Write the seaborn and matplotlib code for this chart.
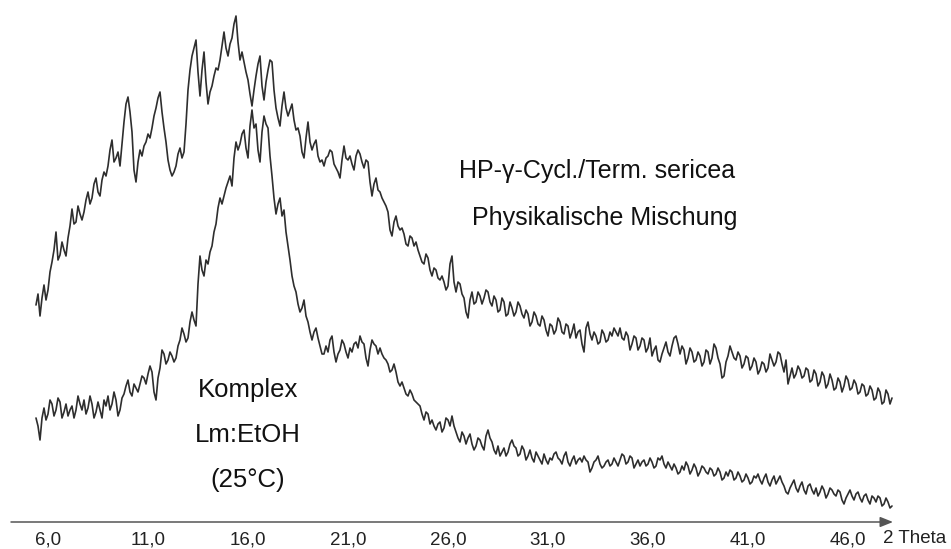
import numpy as np
import pandas as pd
import matplotlib
matplotlib.use("Agg")
import matplotlib.pyplot as plt
from matplotlib.patches import ArrowStyle
import seaborn as sns

# 2-theta scan grid (degrees)
SCAN_START = 5.4
SCAN_STEP = 0.1

# Intensities (arbitrary units) of the physical mixture
mischung = [
    217, 228, 206, 224, 237, 222, 232, 250, 260, 272, 290, 262, 267, 280, 272, 266,
    284, 296, 313, 298, 300, 316, 308, 302, 310, 322, 330, 318, 324, 338, 344, 330,
    326, 342, 350, 346, 356, 372, 382, 360, 364, 370, 356, 378, 400, 418, 425, 410,
    390, 352, 340, 360, 372, 366, 376, 380, 388, 384, 394, 406, 414, 424, 430, 410,
    394, 380, 362, 352, 346, 350, 356, 368, 374, 364, 370, 398, 432, 452, 466, 474,
    482, 450, 426, 452, 470, 440, 418, 430, 436, 446, 454, 452, 462, 476, 490, 474,
    466, 478, 484, 498, 506, 480, 462, 470, 460, 450, 442, 428, 416, 432, 446, 458,
    466, 436, 422, 440, 452, 462, 460, 432, 414, 404, 396, 416, 430, 414, 406, 412,
    418, 402, 392, 394, 386, 370, 364, 384, 400, 380, 372, 378, 382, 366, 360, 362,
    356, 364, 366, 372, 370, 358, 354, 350, 344, 362, 376, 364, 362, 366, 358, 352,
    366, 372, 368, 360, 354, 362, 360, 340, 326, 338, 344, 332, 330, 324, 320, 316,
    310, 292, 286, 300, 306, 296, 292, 294, 288, 278, 276, 286, 284, 276, 280, 272,
    266, 260, 258, 268, 264, 252, 246, 254, 252, 244, 242, 246, 240, 232, 236, 258,
    266, 240, 230, 240, 238, 228, 224, 210, 204, 222, 230, 218, 220, 230, 226, 218,
    224, 232, 230, 220, 216, 226, 222, 210, 212, 224, 220, 206, 208, 220, 214, 206,
    210, 220, 216, 208, 204, 212, 208, 196, 200, 210, 206, 198, 196, 206, 202, 192,
    186, 198, 196, 188, 192, 204, 200, 190, 188, 198, 196, 184, 190, 198, 184, 190,
    192, 178, 170, 194, 200, 188, 182, 190, 186, 178, 180, 192, 188, 180, 182, 190,
    186, 194, 190, 186, 194, 184, 182, 190, 186, 172, 178, 186, 184, 172, 176, 184,
    182, 170, 174, 184, 166, 172, 176, 162, 160, 168, 174, 180, 170, 166, 176, 184,
    186, 178, 168, 176, 172, 158, 164, 174, 170, 160, 162, 170, 166, 156, 160, 172,
    170, 158, 164, 178, 174, 164, 158, 144, 146, 160, 166, 176, 170, 164, 162, 170,
    166, 154, 158, 166, 164, 152, 156, 164, 160, 148, 152, 160, 158, 150, 154, 168,
    162, 156, 160, 170, 168, 158, 150, 162, 138, 146, 154, 144, 148, 156, 152, 144,
    146, 154, 152, 140, 142, 152, 148, 136, 140, 150, 146, 134, 138, 148, 142, 132,
    134, 144, 140, 130, 136, 146, 142, 132, 134, 142, 138, 128, 130, 138, 136, 126,
    128, 136, 132, 122, 124, 134, 130, 118, 120, 132, 128, 118, 124,
]

# Intensities (arbitrary units) of the complex
komplex = [
    104, 96, 82, 104, 114, 102, 108, 122, 118, 106, 112, 124, 120, 104, 110, 118,
    106, 112, 116, 104, 112, 126, 118, 112, 122, 108, 114, 126, 118, 104, 110, 120,
    112, 104, 122, 116, 126, 112, 118, 130, 122, 106, 112, 124, 128, 136, 142, 130,
    126, 138, 134, 130, 138, 146, 144, 138, 148, 156, 150, 130, 122, 144, 154, 172,
    168, 158, 162, 170, 166, 160, 164, 176, 182, 194, 188, 180, 184, 200, 210, 202,
    196, 238, 266, 252, 246, 262, 258, 270, 276, 290, 298, 314, 324, 318, 326, 334,
    340, 346, 336, 364, 380, 372, 378, 388, 392, 374, 364, 396, 412, 394, 398, 372,
    360, 390, 406, 398, 394, 366, 346, 324, 308, 318, 324, 306, 312, 290, 276, 262,
    246, 236, 230, 218, 210, 214, 222, 206, 200, 190, 182, 190, 194, 184, 176, 168,
    168, 176, 170, 182, 186, 170, 160, 168, 172, 182, 178, 170, 164, 174, 170, 178,
    180, 174, 186, 180, 178, 164, 156, 172, 182, 178, 176, 168, 174, 168, 164, 162,
    158, 150, 152, 158, 150, 140, 136, 140, 134, 128, 126, 132, 128, 122, 120, 118,
    116, 108, 102, 110, 108, 98, 102, 96, 92, 98, 100, 90, 94, 104, 102, 96,
    106, 96, 90, 84, 80, 90, 86, 78, 84, 88, 78, 72, 76, 84, 82, 76,
    72, 86, 92, 84, 80, 72, 68, 76, 66, 70, 74, 66, 70, 78, 82, 76,
    74, 66, 68, 76, 72, 62, 66, 72, 64, 60, 70, 66, 62, 58, 68, 62,
    58, 64, 62, 68, 70, 64, 62, 58, 66, 70, 60, 56, 62, 66, 58, 62,
    64, 60, 66, 62, 60, 50, 54, 60, 62, 66, 58, 54, 56, 60, 62, 56,
    58, 64, 60, 56, 62, 68, 66, 58, 60, 66, 64, 54, 58, 62, 56, 60,
    62, 56, 58, 64, 60, 54, 56, 64, 62, 66, 58, 54, 60, 56, 52, 58,
    54, 48, 50, 56, 52, 60, 56, 48, 52, 58, 54, 46, 50, 56, 54, 50,
    48, 54, 52, 46, 48, 54, 50, 42, 44, 50, 46, 52, 50, 42, 44, 50,
    46, 40, 42, 48, 44, 38, 40, 46, 44, 48, 42, 38, 44, 48, 40, 36,
    42, 46, 38, 42, 46, 40, 36, 30, 28, 34, 38, 42, 34, 30, 36, 40,
    32, 28, 36, 38, 32, 28, 34, 26, 30, 36, 32, 24, 28, 34, 32, 28,
    26, 32, 30, 22, 18, 24, 28, 32, 26, 22, 28, 30, 24, 20, 26, 28,
    22, 18, 26, 24, 20, 26, 24, 16, 18, 24, 20, 14, 16,
]

tick_values = [6, 11, 16, 21, 26, 31, 36, 41, 46]
tick_labels = ["6,0", "11,0", "16,0", "21,0", "26,0", "31,0", "36,0", "41,0", "46,0"]
axis_label = "2 Theta"

label_mischung = ["HP-\u03b3-Cycl./Term. sericea", "Physikalische Mischung"]
label_komplex = ["Komplex", "Lm:EtOH", "(25\u00b0C)"]


def scan_frame(values, name):
    theta = SCAN_START + SCAN_STEP * np.arange(len(values))
    return pd.DataFrame({"2theta": theta, "intensity": values, "probe": name})


data = pd.concat([scan_frame(mischung, "Mischung"), scan_frame(komplex, "Komplex")],
                 ignore_index=True)

sns.set_style("white")
plt.rcParams["font.family"] = ["Liberation Sans", "DejaVu Sans"]

fig = plt.figure(figsize=(9.51, 5.49), dpi=100)
ax = fig.add_axes([0, 0, 1, 1])

trace_color = "#2e2e2e"
sns.lineplot(data=data, x="2theta", y="intensity", hue="probe",
             palette={"Mischung": trace_color, "Komplex": trace_color},
             estimator=None, sort=False, lw=1.2, legend=False, ax=ax)

ax.set_xlim(3.6, 51.15)
ax.set_ylim(-27, 522)

# horizontal 2-theta axis drawn as an arrow along intensity zero
for side in ["top", "right", "left", "bottom"]:
    ax.spines[side].set_visible(False)
ax.spines["bottom"].set_position(("data", 0))
ax.annotate("", xy=(48.25, 0), xytext=(4.15, 0),
            arrowprops=dict(arrowstyle=ArrowStyle("-|>", head_length=0.55, head_width=0.22),
                            mutation_scale=14, color="#555555", lw=1.1,
                            shrinkA=0, shrinkB=0))

ax.set_xticks(tick_values)
ax.set_xticklabels(tick_labels)
ax.set_yticks([])
ax.tick_params(axis="x", length=0, pad=6.5, labelsize=13.5, colors="#222222")
ax.set_xlabel("")
ax.set_ylabel("")
ax.text(47.75, -21, axis_label, ha="left", va="baseline", fontsize=13.5, color="#222222")

# series labels
ax.text(33.45, 344, label_mischung[0], ha="center", va="baseline", fontsize=18, color="#111111")
ax.text(33.85, 297, label_mischung[1], ha="center", va="baseline", fontsize=18, color="#111111")
for txt, yb in zip(label_komplex, [125, 80, 35]):
    ax.text(16.0, yb, txt, ha="center", va="baseline", fontsize=18.5, color="#111111")

fig.savefig("out.png", dpi=100, facecolor="white")
